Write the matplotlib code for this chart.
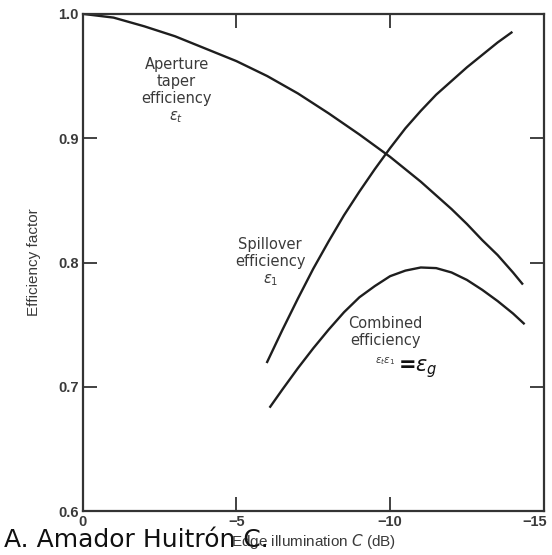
import numpy as np
import matplotlib.pyplot as plt
from matplotlib.transforms import ScaledTranslation

# ---------------------------------------------------------------
# data (edge illumination in dB, efficiency)
# ---------------------------------------------------------------
taper_db = [0, -1, -2, -3, -4, -5, -6, -7, -8, -9, -10, -10.5, -11, -11.5,
            -12, -12.5, -13, -13.5, -14, -14.3]
taper_eff = [1.0, 0.997, 0.990, 0.982, 0.972, 0.962, 0.950, 0.936, 0.920,
             0.903, 0.885, 0.875, 0.865, 0.854, 0.843, 0.831, 0.818, 0.806,
             0.792, 0.783]

spill_db = [-6.0, -6.5, -7, -7.5, -8, -8.5, -9, -9.5, -10, -10.5, -11,
            -11.5, -12, -12.5, -13, -13.5, -13.95]
spill_eff = [0.720, 0.746, 0.771, 0.795, 0.817, 0.838, 0.857, 0.875, 0.892,
             0.908, 0.922, 0.935, 0.946, 0.957, 0.967, 0.977, 0.985]

comb_db = [-6.1, -6.5, -7, -7.5, -8, -8.5, -9, -9.5, -10, -10.5, -11,
           -11.5, -12, -12.5, -13, -13.5, -14, -14.35]
comb_eff = [0.684, 0.698, 0.715, 0.731, 0.746, 0.760, 0.772, 0.781, 0.789,
            0.7935, 0.796, 0.7955, 0.792, 0.786, 0.778, 0.769, 0.759, 0.751]

x_ticks = [0, -5, -10, -15]
x_tick_labels = ['0', '\u22125', '\u221210', '\u221215']
y_ticks = [0.6, 0.7, 0.8, 0.9, 1.0]
y_tick_labels = ['0.6', '0.7', '0.8', '0.9', '1.0']

line_col = '#1e1e1e'
text_col = '#3a3a3a'

fig = plt.figure(figsize=(5.52, 5.55), dpi=100)
ax = fig.add_axes([0.150, 0.079, 0.835, 0.896])

ax.plot(taper_db, taper_eff, color=line_col, lw=1.7)
ax.plot(spill_db, spill_eff, color=line_col, lw=1.7)
ax.plot(comb_db, comb_eff, color=line_col, lw=1.7)

ax.set_xlim(0, -15)
ax.set_ylim(0.6, 1.0)

ax.set_xticks(x_ticks)
ax.set_xticklabels(x_tick_labels)
ax.set_yticks(y_ticks)
ax.set_yticklabels(y_tick_labels)
ax.tick_params(direction='in', length=10, width=1.3, color='#333333',
               top=True, right=True, labelsize=10.5, labelcolor=text_col, pad=3)
for lab in ax.get_xticklabels() + ax.get_yticklabels():
    lab.set_fontweight('bold')
    lab.set_family('Liberation Sans')

# nudge the last x label so it stays inside the picture
last = ax.get_xticklabels()[-1]
last.set_transform(last.get_transform() +
                   ScaledTranslation(-9 / 100, 0, fig.dpi_scale_trans))

for sp in ax.spines.values():
    sp.set_color('#333333')
    sp.set_linewidth(1.6)

ax.set_ylabel('Efficiency factor', fontsize=11, color=text_col,
              family='Liberation Sans', labelpad=12)
ax.set_xlabel('Edge illumination $C$ (dB)', fontsize=11, color=text_col,
              family='Liberation Sans', labelpad=2)

# curve annotations
lab_kw = dict(fontsize=10.5, color=text_col, family='DejaVu Sans',
              ha='center', va='center', linespacing=1.2)
ax.text(-3.05, 0.938, 'Aperture\ntaper\nefficiency\n$\\epsilon_t$', **lab_kw)
ax.text(-6.1, 0.800, 'Spillover\nefficiency\n$\\epsilon_1$', **lab_kw)
ax.text(-9.85, 0.744, 'Combined\nefficiency', **lab_kw)
ax.text(-9.85, 0.721, '$\\epsilon_t\\epsilon_1$', fontsize=7.5, color=text_col,
        ha='center', va='center')
ax.text(-10.25, 0.715, '=$\\epsilon_g$', fontsize=15, color='#111111',
        ha='left', va='center', fontweight='bold')

# author credit drawn over the axis label, as in the source image
fig.text(0.008, 0.027, 'A. Amador Huitr\u00f3n C.', fontsize=18,
         color='#111111', family='DejaVu Sans', ha='left', va='center',
         zorder=10)

fig.savefig('out.png', dpi=100)
